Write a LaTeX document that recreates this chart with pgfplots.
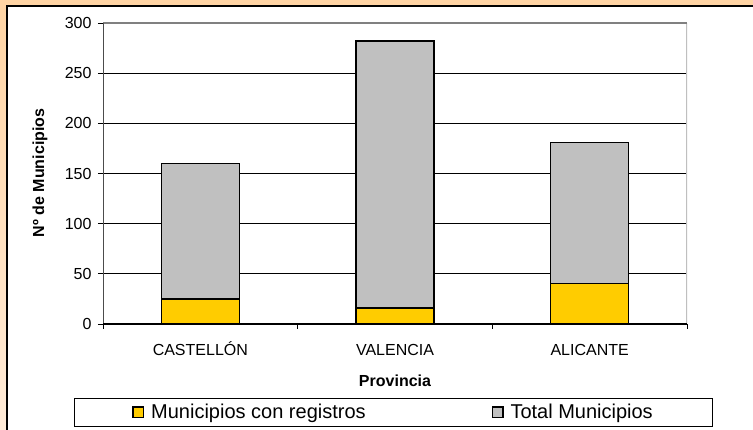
\documentclass[border=0pt]{standalone}
\usepackage{pgfplots}
\pgfplotsset{compat=1.18}
\usepackage{fontspec}
\setmainfont{Liberation Sans}
\definecolor{peachtop}{RGB}{255,212,164}
\definecolor{peachbot}{RGB}{255,235,216}
\definecolor{baryellow}{RGB}{255,204,0}
\definecolor{bargray}{RGB}{192,192,192}
\begin{document}
\begin{tikzpicture}[x=1pt,y=1pt]
\useasboundingbox (0,0) rectangle (753,430);
\clip (0,0) rectangle (753,430);
\shade[top color=peachtop,bottom color=peachbot] (0,0) rectangle (753,430);
\filldraw[fill=white,draw=black,line width=1.2pt] (7,-20) rectangle (780,424);
\begin{axis}[
  at={(103pt,106pt)}, anchor=south west,
  width=584pt, height=301pt, scale only axis,
  ybar stacked, bar width=0.4,
  xmin=-0.5, xmax=2.5, ymin=0, ymax=300,
  ytick={0,50,...,300},
  xtick={-0.5,0.5,1.5,2.5}, xticklabels={},
  extra x ticks={0,1,2},
  extra x tick labels={CASTELLÓN,VALENCIA,ALICANTE},
  extra x tick style={major tick length=0pt, xticklabel style={anchor=base, yshift=-32pt}},
  tick align=outside, xtick pos=bottom, ytick pos=left,
  major tick length=5pt,
  tick style={black,line width=0.8pt},
  axis line style={draw=none},
  ymajorgrids, grid style={black,line width=0.9pt},
  ticklabel style={font=\fontsize{16}{19}\selectfont},
  yticklabel style={xshift=-3pt},
  /pgf/number format/assume math mode=true,
  xlabel={Provincia},
  ylabel={Nº de Municipios},
  every axis x label/.style={at={(rel axis cs:0.5,-0.189)},anchor=center,font=\fontsize{16}{19}\selectfont\bfseries},
  every axis y label/.style={at={(rel axis cs:-0.108,0.502)},rotate=90,anchor=center,font=\fontsize{16}{19}\selectfont\bfseries},
  legend columns=2,
  legend image code/.code={\draw[#1] (0pt,-5.3pt) rectangle (10.6pt,5.3pt);},
  legend style={at={(rel axis cs:-0.0497,-0.2458)}, anchor=north west,
    draw=black, line width=0.8pt, inner xsep=58pt, inner ysep=4pt,
    font=\fontsize{20}{24}\selectfont,
    /tikz/every odd column/.append style={column sep=5pt},
    /tikz/every even column/.append style={column sep=124pt}},
]
\addplot[fill=baryellow,draw=black,line width=1.2pt] coordinates {(0,25) (1,16) (2,40)};
\addplot[fill=bargray,draw=black,line width=1.2pt] coordinates {(0,135) (1,266) (2,141)};
\legend{Municipios con registros,Total Municipios}
\draw[black,line width=1pt] (rel axis cs:0,0) -- (rel axis cs:1,0);
\draw[gray!60!black,line width=1.6pt] (rel axis cs:0,0) -- (rel axis cs:0,1);
\draw[gray,line width=1.6pt] (rel axis cs:0,1) -- (rel axis cs:1,1);
\draw[gray!50,line width=1.8pt] (rel axis cs:1,1) -- (rel axis cs:1,0);
\end{axis}
\end{tikzpicture}
\end{document}
